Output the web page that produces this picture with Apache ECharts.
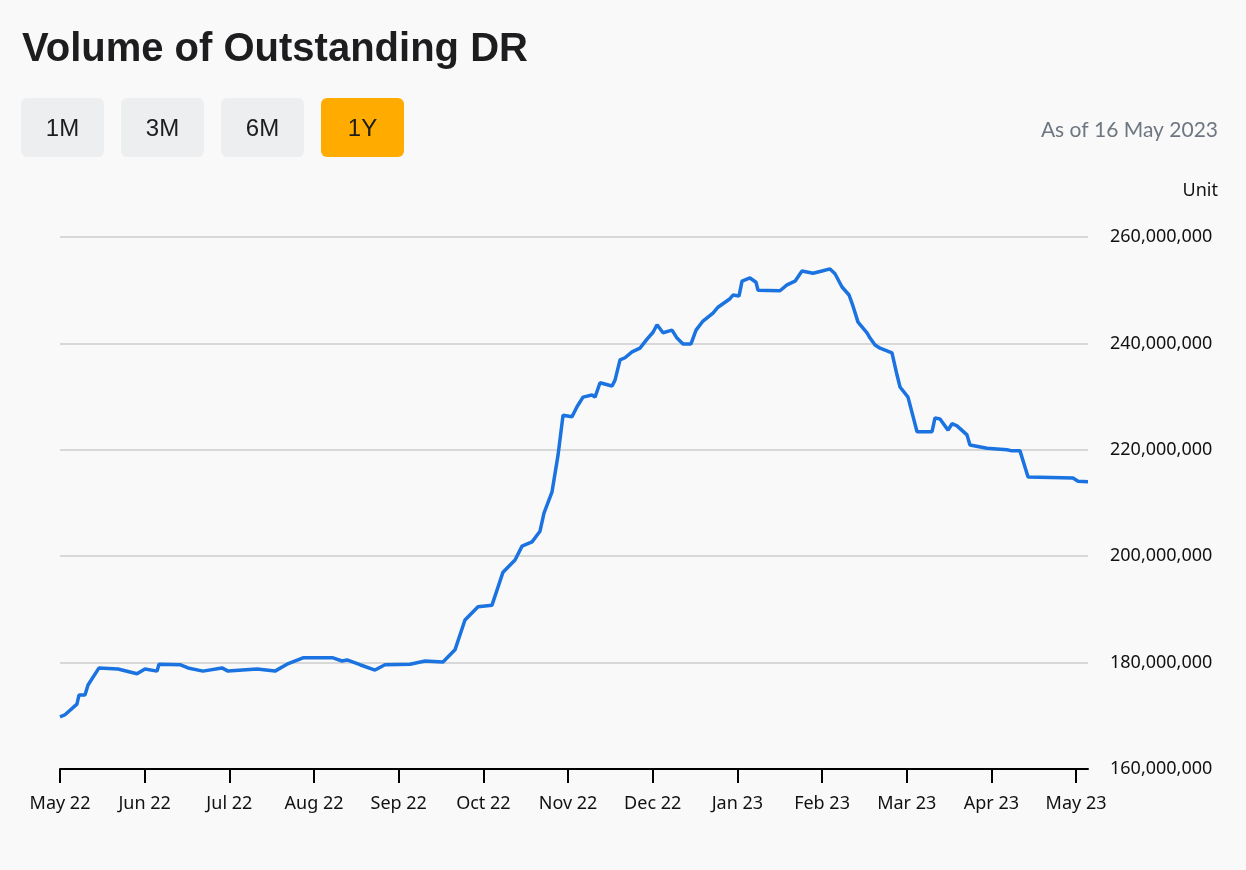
<!DOCTYPE html>
<html>
<head>
<meta charset="utf-8">
<script src="https://cdn.jsdelivr.net/npm/echarts@6/dist/echarts.min.js"></script>
<style>
html,body{margin:0;padding:0;background:#f9f9f9;}
#chart{width:1246px;height:870px;}
</style>
</head>
<body>
<div id="chart"></div>
<script>
// Month tick labels (evenly spaced, one per month)
const monthLabels = ['May 22','Jun 22','Jul 22','Aug 22','Sep 22','Oct 22','Nov 22','Dec 22','Jan 23','Feb 23','Mar 23','Apr 23','May 23'];
// x position in months since the first tick
const xMonths = [0,0.059,0.20,0.224,0.295,0.331,0.461,0.685,0.909,1.004,1.146,1.169,1.417,1.512,1.689,1.913,1.984,2.327,2.539,2.681,2.870,3.224,3.331,3.390,3.543,3.720,3.838,4.134,4.311,4.523,4.665,4.783,4.937,5.102,5.232,5.374,5.457,5.575,5.669,5.716,5.811,5.882,5.941,6.047,6.106,6.177,6.283,6.319,6.378,6.520,6.555,6.614,6.673,6.756,6.850,6.933,7.004,7.051,7.122,7.228,7.287,7.358,7.452,7.512,7.594,7.712,7.771,7.913,7.949,8.019,8.055,8.149,8.220,8.244,8.503,8.586,8.681,8.763,8.893,9.000,9.094,9.153,9.236,9.319,9.366,9.425,9.531,9.567,9.626,9.685,9.826,9.885,9.921,10.015,10.122,10.299,10.334,10.393,10.488,10.535,10.594,10.712,10.747,10.948,11.184,11.244,11.338,11.433,11.964,12.023,12.141];
// Outstanding DR volume, millions of units
const volumeM = [169.8,170.2,172.2,173.9,173.9,175.8,179.0,178.8,177.9,178.8,178.4,179.7,179.6,179.0,178.4,179.0,178.4,178.8,178.4,179.7,180.9,180.9,180.3,180.5,179.6,178.6,179.6,179.7,180.3,180.1,182.4,188.0,190.5,190.8,197.0,199.3,201.9,202.7,204.7,208.1,212.1,219.0,226.5,226.2,228.1,229.9,230.3,229.9,232.6,232.0,233.1,236.9,237.3,238.4,239.1,240.8,242.1,243.5,242.0,242.5,241.0,239.9,239.9,242.5,244.2,245.7,246.8,248.4,249.1,248.9,251.7,252.3,251.5,250.0,249.9,251.0,251.7,253.6,253.2,253.6,254.0,253.1,250.6,249.1,247.0,244.0,242.0,241.0,239.7,239.1,238.2,234.1,231.8,229.9,223.4,223.4,226.0,225.8,223.7,224.9,224.5,222.8,220.9,220.3,220.0,219.8,219.8,214.9,214.7,214.1,214.0];
const yTicks = [160000000,180000000,200000000,220000000,240000000,260000000];
const buttonLabels = ['1M','3M','6M','1Y'];
const activeButton = '1Y';

const seriesData = xMonths.map((x, i) => [x, volumeM[i] * 1e6]);
const tickIdx = monthLabels.map((_, i) => i);

const chart = echarts.init(document.getElementById('chart'), null, {renderer: 'canvas'});

const buttons = buttonLabels.map((b, i) => ({
  type: 'group',
  left: 21 + i * 100,
  top: 98,
  children: [
    {type: 'rect', shape: {x: 0, y: 0, width: 83, height: 59, r: 6},
     style: {fill: b === activeButton ? '#ffab00' : '#eceef0'}},
    {type: 'text', x: 41.5, y: 31,
     style: {text: b, fill: '#1d1d1f', font: '24px "Liberation Sans", Arial, sans-serif', textAlign: 'center', textVerticalAlign: 'middle'}}
  ]
}));

chart.setOption({
  backgroundColor: '#f9f9f9',
  animation: false,
  grid: {left: 60, right: 158, top: 237, bottom: 101, containLabel: false},
  xAxis: {
    type: 'value',
    min: 0,
    max: 12.141,
    interval: 1,
    splitLine: {show: false},
    axisLine: {show: true, lineStyle: {color: '#000', width: 2}},
    axisTick: {show: true, length: 14, lineStyle: {color: '#000', width: 2}, customValues: tickIdx},
    axisLabel: {
      customValues: tickIdx,
      margin: 26,
      color: '#111',
      fontSize: 18,
      fontFamily: '"Noto Sans", sans-serif',
      formatter: v => monthLabels[Math.round(v)] || ''
    }
  },
  yAxis: {
    type: 'value',
    position: 'right',
    min: 160000000,
    max: 260000000,
    interval: 20000000,
    axisLine: {show: false},
    axisTick: {show: false},
    splitLine: {show: true, lineStyle: {color: '#cccccc', width: 1.5}},
    axisLabel: {
      margin: 22,
      color: '#111',
      fontSize: 18,
      padding: [6, 0, 0, 0],
      fontFamily: '"Noto Sans", sans-serif',
      formatter: v => v.toLocaleString('en-US')
    }
  },
  series: [{
    type: 'line',
    data: seriesData,
    showSymbol: false,
    smooth: false,
    lineStyle: {color: '#1a73e0', width: 3.5},
    itemStyle: {color: '#1a73e0'}
  }],
  graphic: [
    {type: 'text', left: 22, top: 30,
     style: {text: 'Volume of Outstanding DR', fill: '#1d1d1f', font: 'bold 40px "Liberation Sans", Arial, sans-serif'}},
    ...buttons,
    {type: 'text', right: 28, top: 120,
     style: {text: 'As of 16 May 2023', fill: '#6e7781', font: '21px Lato, "Noto Sans", sans-serif'}},
    {type: 'text', right: 28, top: 182,
     style: {text: 'Unit', fill: '#111', font: '18px "Noto Sans", sans-serif'}}
  ]
});
</script>
</body>
</html>
